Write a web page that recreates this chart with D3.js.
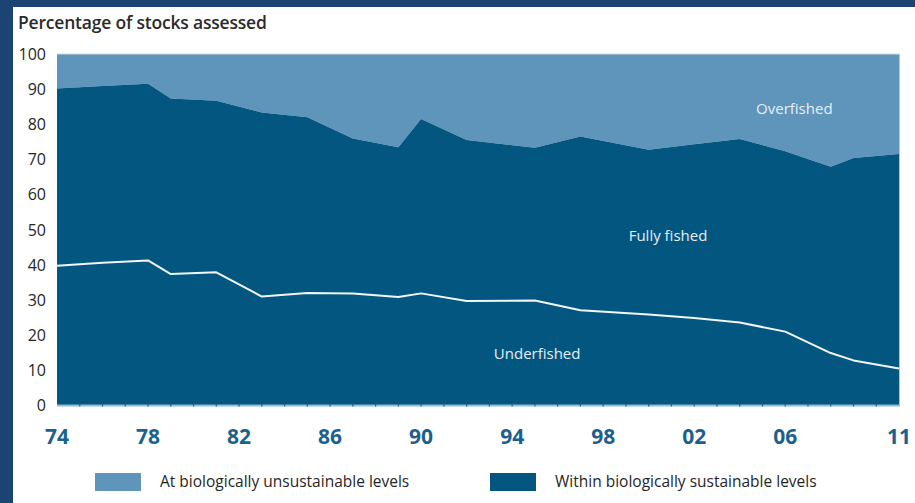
<!DOCTYPE html>
<html><head><meta charset="utf-8">
<script src="https://cdn.jsdelivr.net/npm/d3@7"></script>
<style>
html,body{margin:0;padding:0;background:#1c4473;}
svg{display:block;}
</style></head>
<body>
<svg id="c" width="915" height="503"></svg>
<script>
const years = [1974,1976,1978,1979,1981,1983,1985,1987,1989,1990,1992,1995,1997,2000,2002,2004,2006,2008,2009,2011];
const sustainable = [90.2,90.9,91.5,87.3,86.7,83.3,82.0,75.9,73.4,81.5,75.5,73.3,76.5,72.7,74.3,75.8,72.3,67.9,70.4,71.5];
const underfished = [39.7,40.5,41.2,37.3,37.8,30.9,31.9,31.8,30.8,31.8,29.6,29.8,27.0,25.8,24.8,23.5,20.9,14.8,12.7,10.4];
const xTickYears = [1974,1978,1982,1986,1990,1994,1998,2002,2006,2011];
const xTickLabels = ["74","78","82","86","90","94","98","02","06","11"];
const yTicks = [0,10,20,30,40,50,60,70,80,90,100];
const legendLabels = ["At biologically unsustainable levels","Within biologically sustainable levels"];
const regionLabels = [
  {text:"Overfished", year:2006.4, value:83.0},
  {text:"Fully fished", year:2000.85, value:46.8},
  {text:"Underfished", year:1995.1, value:13.2}
];

const LIGHT = "#5f95bb", DARK = "#02567f";
const svg = d3.select("#c");
svg.append("rect").attr("x",13).attr("y",7).attr("width",902).attr("height",496).attr("fill","#ffffff");

const x = d3.scaleLinear().domain([1974,2011]).range([57,899]);
const y = d3.scaleLinear().domain([0,100]).range([405,54]);

const data = years.map((yr,i)=>({yr, s:sustainable[i], u:underfished[i]}));

svg.append("path").datum(data)
  .attr("d", d3.area().x(d=>x(d.yr)).y0(d=>y(d.s)).y1(()=>y(100)))
  .attr("fill", LIGHT);
svg.append("path").datum(data)
  .attr("d", d3.area().x(d=>x(d.yr)).y0(()=>y(0)).y1(d=>y(d.s)))
  .attr("fill", DARK);
svg.append("line").attr("x1",x(1974)).attr("x2",x(2011)).attr("y1",y(100)).attr("y2",y(100))
  .attr("stroke","#c9dbe8").attr("stroke-width",1);
svg.append("line").attr("x1",x(2011)+0.5).attr("x2",x(2011)+0.5).attr("y1",y(100)).attr("y2",y(0)+1)
  .attr("stroke","#a9c8de").attr("stroke-width",1);

svg.append("path").datum(data)
  .attr("d", d3.line().x(d=>x(d.yr)).y(d=>y(d.u)))
  .attr("fill","none").attr("stroke","#f2f6f9").attr("stroke-width",2).attr("stroke-linejoin","round");

svg.append("line").attr("x1",x(1974)).attr("x2",x(2011)+1).attr("y1",y(0)+0.5).attr("y2",y(0)+0.5)
  .attr("stroke","#8fbcd8").attr("stroke-width",2);
const allYears = d3.range(1975,2011);
svg.append("g").selectAll("line").data(allYears).join("line")
  .attr("x1",d=>x(d)).attr("x2",d=>x(d)).attr("y1",y(0)-1.5).attr("y2",y(0)+1.5)
  .attr("stroke","#2a5f80").attr("stroke-width",1.2);

svg.append("g").selectAll("text").data(yTicks).join("text")
  .attr("x",46).attr("y",d=>y(d)+6).attr("text-anchor","end")
  .attr("font-family","'Open Sans', sans-serif").attr("font-size",16).attr("fill","#262626")
  .text(d=>d);

svg.append("g").selectAll("text").data(xTickYears).join("text")
  .attr("x",(d,i)=>x(d)).attr("y",444).attr("text-anchor","middle")
  .attr("font-family","'Liberation Sans Narrow','Open Sans', sans-serif").attr("font-weight","bold")
  .attr("font-size",21).attr("fill","#1b618f")
  .text((d,i)=>xTickLabels[i]);

svg.append("text").attr("x",18).attr("y",29)
  .attr("font-family","'Open Sans', sans-serif").attr("font-weight",600).attr("font-size",17.5)
  .attr("fill","#2b2b2b").attr("letter-spacing","-0.2")
  .text("Percentage of stocks assessed");

svg.append("g").selectAll("text").data(regionLabels).join("text")
  .attr("x",d=>x(d.year)).attr("y",d=>y(d.value)).attr("text-anchor","middle")
  .attr("font-family","'Open Sans', sans-serif").attr("font-size",15).attr("fill","#e6eef4")
  .text(d=>d.text);

const lg = svg.append("g");
const lx = [95,490];
const lcol = [LIGHT, DARK];
legendLabels.forEach((t,i)=>{
  lg.append("rect").attr("x",lx[i]).attr("y",473).attr("width",46).attr("height",18).attr("fill",lcol[i]);
  lg.append("text").attr("x",lx[i]+65).attr("y",487)
    .attr("font-family","'Liberation Sans Narrow','Open Sans', sans-serif").attr("font-size",15.5).attr("fill","#262626")
    .text(t);
});
</script>
</body></html>
